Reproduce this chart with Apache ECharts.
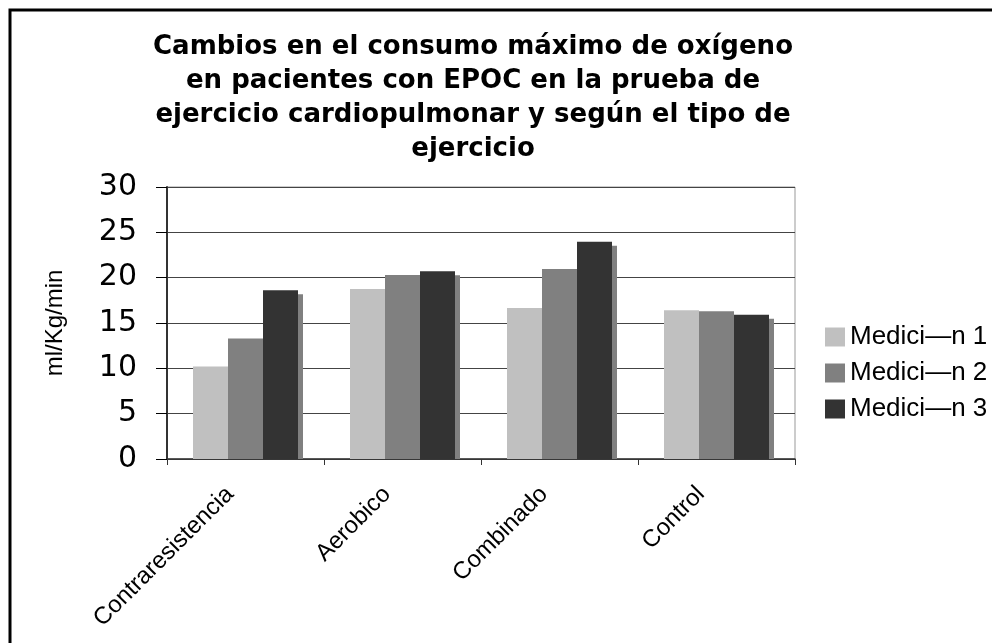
<!DOCTYPE html>
<html>
<head>
<meta charset="utf-8">
<script src="https://cdn.jsdelivr.net/npm/echarts@6/dist/echarts.min.js"></script>
<style>
html,body{margin:0;padding:0;background:#fff;}
#chart{width:992px;height:643px;}
</style>
</head>
<body>
<div id="chart"></div>
<script>
const titleText = 'Cambios en el consumo máximo de oxígeno\nen pacientes con EPOC en la prueba de\nejercicio cardiopulmonar y según el tipo de\nejercicio';
const categories = ['Contraresistencia', 'Aerobico', 'Combinado', 'Control'];
const seriesNames = ['Medici\u2014n 1', 'Medici\u2014n 2', 'Medici\u2014n 3'];
const medicion1 = [10.2, 18.75, 16.65, 16.4];
const medicion2 = [13.3, 20.3, 20.95, 16.3];
const medicion3 = [18.6, 20.7, 23.95, 15.9];
const yTicks = [0, 5, 10, 15, 20, 25, 30];
const yAxisName = 'ml/Kg/min';

const colors = ['#c0c0c0', '#808080', '#333333'];
const BAR_W = 35;

const chart = echarts.init(document.getElementById('chart'), null, {renderer: 'canvas'});

const option = {
  animation: false,
  backgroundColor: '#ffffff',
  graphic: [
    {
      type: 'rect',
      shape: {x: 10, y: 10, width: 1000, height: 700},
      style: {fill: 'none', stroke: '#000', lineWidth: 3},
      silent: true, z: 0
    },
    {
      type: 'text',
      x: 473, y: 30,
      style: {
        text: titleText,
        textAlign: 'center',
        textVerticalAlign: 'top',
        fontFamily: '"DejaVu Sans", Verdana, sans-serif',
        fontWeight: 'bold',
        fontSize: 26,
        lineHeight: 34,
        fill: '#000'
      },
      z: 10
    }
  ],
  legend: {
    orient: 'vertical',
    left: 820,
    top: 319,
    itemWidth: 20,
    itemHeight: 19,
    itemGap: 10,
    icon: 'rect',
    data: seriesNames,
    textStyle: {
      fontFamily: '"Liberation Sans", Arial, sans-serif',
      fontSize: 26,
      color: '#000'
    }
  },
  grid: {
    left: 167, top: 187, width: 628, height: 272,
    show: true, borderColor: '#999', borderWidth: 1,
    backgroundColor: 'transparent'
  },
  xAxis: {
    type: 'category',
    data: categories,
    boundaryGap: true,
    axisLine: {show: true, lineStyle: {color: '#333', width: 1.5}},
    axisTick: {show: true, alignWithLabel: false, length: 6, lineStyle: {color: '#333'}},
    axisLabel: {
      rotate: 45,
      margin: 16,
      interval: 0,
      padding: [0, 22, 0, 0],
      fontFamily: '"Liberation Sans", Arial, sans-serif',
      fontSize: 24,
      color: '#000'
    },
    splitLine: {show: false}
  },
  yAxis: {
    type: 'value',
    min: 0, max: 30, interval: 5,
    name: yAxisName,
    nameLocation: 'middle',
    nameGap: 100,
    nameRotate: 90,
    nameTextStyle: {
      fontFamily: '"Liberation Sans", Arial, sans-serif',
      fontSize: 24,
      color: '#000'
    },
    axisLine: {show: true, lineStyle: {color: '#333', width: 2}},
    axisTick: {show: true, inside: false, length: 11, lineStyle: {color: '#000'}},
    axisLabel: {
      margin: 30,
      fontFamily: '"DejaVu Sans", Verdana, sans-serif',
      fontSize: 30,
      color: '#000',
      formatter: function (v) { return yTicks.indexOf(v) >= 0 ? String(v) : ''; }
    },
    splitLine: {show: true, lineStyle: {color: '#444', width: 1}}
  },
  series: [
    {
      name: 'shadow',
      type: 'custom',
      z: 1,
      silent: true,
      data: medicion3.map(function (v, i) { return [i, v]; }),
      renderItem: function (params, api) {
        const top = api.coord([api.value(0), api.value(1)]);
        const base = api.coord([api.value(0), 0]);
        const x = top[0] + BAR_W * 0.5 + 5;
        const y = top[1] + 4;
        return {
          type: 'rect',
          shape: {x: x, y: y, width: BAR_W, height: Math.max(0, base[1] - y)},
          style: {fill: '#808080'}
        };
      },
      encode: {x: 0, y: 1}
    },
    {name: seriesNames[0], type: 'bar', z: 2, data: medicion1, barWidth: BAR_W, barGap: '0%', itemStyle: {color: colors[0]}},
    {name: seriesNames[1], type: 'bar', z: 2, data: medicion2, barWidth: BAR_W, barGap: '0%', itemStyle: {color: colors[1]}},
    {name: seriesNames[2], type: 'bar', z: 2, data: medicion3, barWidth: BAR_W, barGap: '0%', itemStyle: {color: colors[2]}}
  ]
};

chart.setOption(option);
</script>
</body>
</html>
